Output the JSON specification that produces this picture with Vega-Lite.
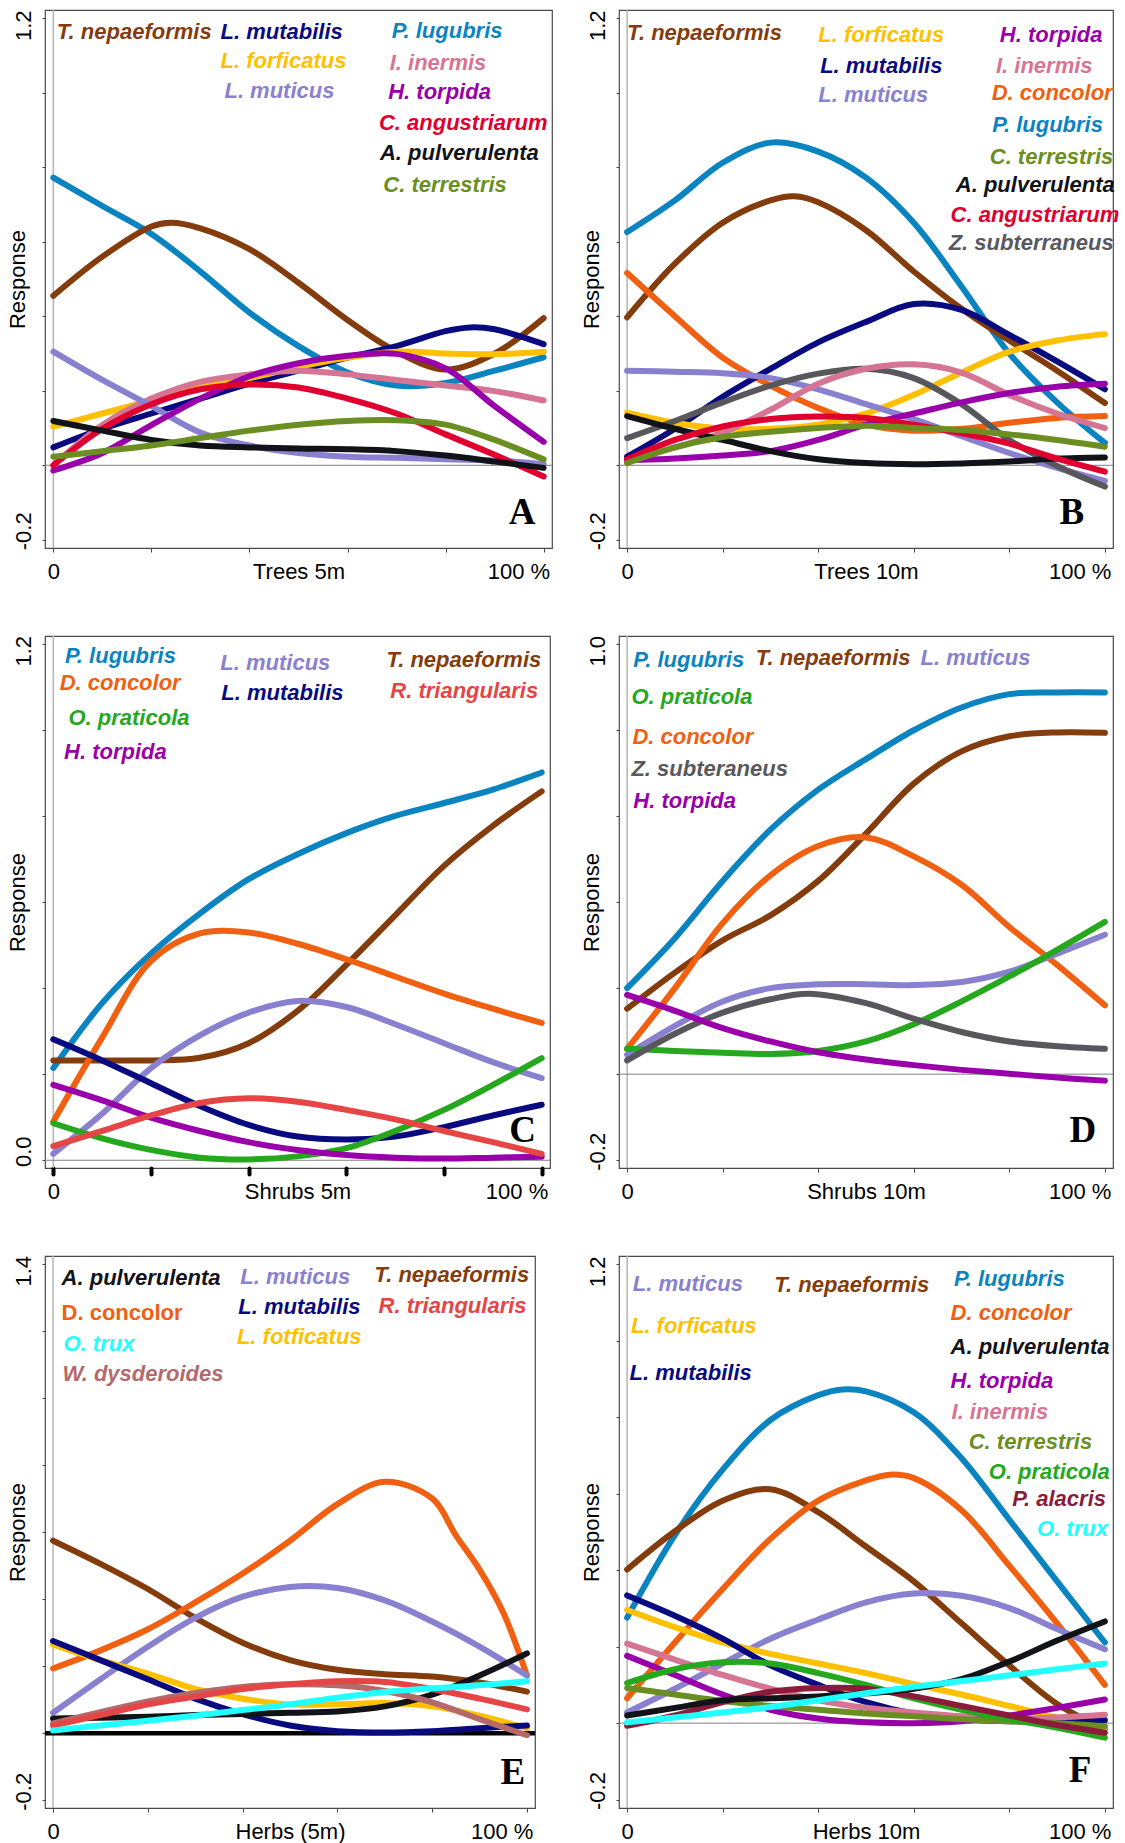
{
"$schema": "https://vega.github.io/schema/vega-lite/v6.json",
"background": "white",
"padding": {"left": 5, "top": 8, "right": 0, "bottom": 0},
"config": {"view": {"stroke": "#4a4a4a", "strokeWidth": 1.2}, "font": "Liberation Sans"},
"datasets": {
"curvesA": [
{"species":"P. lugubris","x":0,"y":0.772},{"species":"P. lugubris","x":10,"y":0.696},{"species":"P. lugubris","x":20,"y":0.621},{"species":"P. lugubris","x":30,"y":0.52},{"species":"P. lugubris","x":40,"y":0.41},{"species":"P. lugubris","x":50,"y":0.32},{"species":"P. lugubris","x":60,"y":0.249},{"species":"P. lugubris","x":70,"y":0.214},{"species":"P. lugubris","x":80,"y":0.221},{"species":"P. lugubris","x":90,"y":0.254},{"species":"P. lugubris","x":100,"y":0.29},
{"species":"T. nepaeformis","x":0,"y":0.455},{"species":"T. nepaeformis","x":10,"y":0.56},{"species":"T. nepaeformis","x":20,"y":0.641},{"species":"T. nepaeformis","x":24,"y":0.651},{"species":"T. nepaeformis","x":30,"y":0.636},{"species":"T. nepaeformis","x":40,"y":0.58},{"species":"T. nepaeformis","x":50,"y":0.49},{"species":"T. nepaeformis","x":60,"y":0.39},{"species":"T. nepaeformis","x":70,"y":0.305},{"species":"T. nepaeformis","x":80,"y":0.257},{"species":"T. nepaeformis","x":90,"y":0.3},{"species":"T. nepaeformis","x":100,"y":0.395},
{"species":"L. mutabilis","x":0,"y":0.048},{"species":"L. mutabilis","x":10,"y":0.098},{"species":"L. mutabilis","x":20,"y":0.139},{"species":"L. mutabilis","x":30,"y":0.179},{"species":"L. mutabilis","x":40,"y":0.219},{"species":"L. mutabilis","x":50,"y":0.254},{"species":"L. mutabilis","x":60,"y":0.289},{"species":"L. mutabilis","x":70,"y":0.32},{"species":"L. mutabilis","x":80,"y":0.36},{"species":"L. mutabilis","x":85,"y":0.37},{"species":"L. mutabilis","x":90,"y":0.365},{"species":"L. mutabilis","x":100,"y":0.325},
{"species":"L. forficatus","x":0,"y":0.104},{"species":"L. forficatus","x":10,"y":0.139},{"species":"L. forficatus","x":20,"y":0.174},{"species":"L. forficatus","x":30,"y":0.209},{"species":"L. forficatus","x":40,"y":0.234},{"species":"L. forficatus","x":50,"y":0.264},{"species":"L. forficatus","x":60,"y":0.289},{"species":"L. forficatus","x":70,"y":0.305},{"species":"L. forficatus","x":80,"y":0.3},{"species":"L. forficatus","x":90,"y":0.298},{"species":"L. forficatus","x":100,"y":0.305},
{"species":"I. inermis","x":0,"y":0.0},{"species":"I. inermis","x":10,"y":0.108},{"species":"I. inermis","x":20,"y":0.179},{"species":"I. inermis","x":30,"y":0.224},{"species":"I. inermis","x":40,"y":0.244},{"species":"I. inermis","x":50,"y":0.254},{"species":"I. inermis","x":60,"y":0.244},{"species":"I. inermis","x":70,"y":0.229},{"species":"I. inermis","x":80,"y":0.214},{"species":"I. inermis","x":90,"y":0.199},{"species":"I. inermis","x":100,"y":0.174},
{"species":"L. muticus","x":0,"y":0.305},{"species":"L. muticus","x":10,"y":0.229},{"species":"L. muticus","x":20,"y":0.159},{"species":"L. muticus","x":30,"y":0.088},{"species":"L. muticus","x":40,"y":0.053},{"species":"L. muticus","x":50,"y":0.033},{"species":"L. muticus","x":60,"y":0.023},{"species":"L. muticus","x":70,"y":0.02},{"species":"L. muticus","x":80,"y":0.016},{"species":"L. muticus","x":90,"y":0.013},{"species":"L. muticus","x":100,"y":0.003},
{"species":"H. torpida","x":0,"y":-0.014},{"species":"H. torpida","x":10,"y":0.033},{"species":"H. torpida","x":20,"y":0.108},{"species":"H. torpida","x":30,"y":0.179},{"species":"H. torpida","x":40,"y":0.239},{"species":"H. torpida","x":50,"y":0.274},{"species":"H. torpida","x":60,"y":0.294},{"species":"H. torpida","x":70,"y":0.299},{"species":"H. torpida","x":80,"y":0.26},{"species":"H. torpida","x":90,"y":0.159},{"species":"H. torpida","x":100,"y":0.063},
{"species":"C. angustriarum","x":0,"y":0.0},{"species":"C. angustriarum","x":10,"y":0.098},{"species":"C. angustriarum","x":20,"y":0.164},{"species":"C. angustriarum","x":30,"y":0.204},{"species":"C. angustriarum","x":40,"y":0.217},{"species":"C. angustriarum","x":50,"y":0.209},{"species":"C. angustriarum","x":60,"y":0.179},{"species":"C. angustriarum","x":70,"y":0.139},{"species":"C. angustriarum","x":80,"y":0.083},{"species":"C. angustriarum","x":90,"y":0.028},{"species":"C. angustriarum","x":100,"y":-0.03},
{"species":"A. pulverulenta","x":0,"y":0.119},{"species":"A. pulverulenta","x":10,"y":0.093},{"species":"A. pulverulenta","x":20,"y":0.068},{"species":"A. pulverulenta","x":30,"y":0.053},{"species":"A. pulverulenta","x":40,"y":0.048},{"species":"A. pulverulenta","x":50,"y":0.045},{"species":"A. pulverulenta","x":60,"y":0.043},{"species":"A. pulverulenta","x":70,"y":0.038},{"species":"A. pulverulenta","x":80,"y":0.026},{"species":"A. pulverulenta","x":90,"y":0.01},{"species":"A. pulverulenta","x":100,"y":-0.007},
{"species":"C. terrestris","x":0,"y":0.023},{"species":"C. terrestris","x":10,"y":0.038},{"species":"C. terrestris","x":20,"y":0.053},{"species":"C. terrestris","x":30,"y":0.073},{"species":"C. terrestris","x":40,"y":0.093},{"species":"C. terrestris","x":50,"y":0.109},{"species":"C. terrestris","x":60,"y":0.119},{"species":"C. terrestris","x":70,"y":0.121},{"species":"C. terrestris","x":80,"y":0.109},{"species":"C. terrestris","x":90,"y":0.068},{"species":"C. terrestris","x":100,"y":0.016}
],
"labelsA": [
{"species":"T. nepaeformis","label":"T. nepaeformis","x":0.7,"y":1.164},
{"species":"L. mutabilis","label":"L. mutabilis","x":34.1,"y":1.164},
{"species":"P. lugubris","label":"P. lugubris","x":69,"y":1.166},
{"species":"L. forficatus","label":"L. forficatus","x":34.1,"y":1.085},
{"species":"I. inermis","label":"I. inermis","x":68.6,"y":1.081},
{"species":"L. muticus","label":"L. muticus","x":34.9,"y":1.005},
{"species":"H. torpida","label":"H. torpida","x":68.3,"y":1.003},
{"species":"C. angustriarum","label":"C. angustriarum","x":66.4,"y":0.918},
{"species":"A. pulverulenta","label":"A. pulverulenta","x":66.6,"y":0.837},
{"species":"C. terrestris","label":"C. terrestris","x":67.3,"y":0.752}
],
"curvesB": [
{"species":"P. lugubris","x":0,"y":0.626},{"species":"P. lugubris","x":10,"y":0.711},{"species":"P. lugubris","x":20,"y":0.812},{"species":"P. lugubris","x":30,"y":0.866},{"species":"P. lugubris","x":40,"y":0.842},{"species":"P. lugubris","x":50,"y":0.772},{"species":"P. lugubris","x":60,"y":0.651},{"species":"P. lugubris","x":70,"y":0.48},{"species":"P. lugubris","x":80,"y":0.3},{"species":"P. lugubris","x":90,"y":0.169},{"species":"P. lugubris","x":100,"y":0.06},
{"species":"T. nepaeformis","x":0,"y":0.397},{"species":"T. nepaeformis","x":10,"y":0.541},{"species":"T. nepaeformis","x":20,"y":0.651},{"species":"T. nepaeformis","x":30,"y":0.711},{"species":"T. nepaeformis","x":35,"y":0.722},{"species":"T. nepaeformis","x":40,"y":0.706},{"species":"T. nepaeformis","x":50,"y":0.631},{"species":"T. nepaeformis","x":60,"y":0.52},{"species":"T. nepaeformis","x":70,"y":0.42},{"species":"T. nepaeformis","x":80,"y":0.335},{"species":"T. nepaeformis","x":90,"y":0.254},{"species":"T. nepaeformis","x":100,"y":0.167},
{"species":"D. concolor","x":0,"y":0.516},{"species":"D. concolor","x":10,"y":0.4},{"species":"D. concolor","x":20,"y":0.289},{"species":"D. concolor","x":30,"y":0.214},{"species":"D. concolor","x":40,"y":0.154},{"species":"D. concolor","x":50,"y":0.109},{"species":"D. concolor","x":60,"y":0.093},{"species":"D. concolor","x":70,"y":0.098},{"species":"D. concolor","x":80,"y":0.114},{"species":"D. concolor","x":90,"y":0.127},{"species":"D. concolor","x":100,"y":0.132},
{"species":"L. mutabilis","x":0,"y":0.023},{"species":"L. mutabilis","x":10,"y":0.098},{"species":"L. mutabilis","x":20,"y":0.184},{"species":"L. mutabilis","x":30,"y":0.259},{"species":"L. mutabilis","x":40,"y":0.33},{"species":"L. mutabilis","x":50,"y":0.385},{"species":"L. mutabilis","x":60,"y":0.433},{"species":"L. mutabilis","x":70,"y":0.417},{"species":"L. mutabilis","x":80,"y":0.35},{"species":"L. mutabilis","x":90,"y":0.279},{"species":"L. mutabilis","x":100,"y":0.204},
{"species":"L. forficatus","x":0,"y":0.141},{"species":"L. forficatus","x":10,"y":0.114},{"species":"L. forficatus","x":20,"y":0.098},{"species":"L. forficatus","x":30,"y":0.098},{"species":"L. forficatus","x":40,"y":0.109},{"species":"L. forficatus","x":50,"y":0.139},{"species":"L. forficatus","x":60,"y":0.189},{"species":"L. forficatus","x":70,"y":0.249},{"species":"L. forficatus","x":80,"y":0.305},{"species":"L. forficatus","x":90,"y":0.335},{"species":"L. forficatus","x":100,"y":0.352},
{"species":"L. muticus","x":0,"y":0.254},{"species":"L. muticus","x":10,"y":0.251},{"species":"L. muticus","x":20,"y":0.247},{"species":"L. muticus","x":30,"y":0.234},{"species":"L. muticus","x":40,"y":0.204},{"species":"L. muticus","x":50,"y":0.164},{"species":"L. muticus","x":60,"y":0.124},{"species":"L. muticus","x":70,"y":0.078},{"species":"L. muticus","x":80,"y":0.033},{"species":"L. muticus","x":90,"y":-0.007},{"species":"L. muticus","x":100,"y":-0.042},
{"species":"Z. subterraneus","x":0,"y":0.073},{"species":"Z. subterraneus","x":10,"y":0.119},{"species":"Z. subterraneus","x":20,"y":0.169},{"species":"Z. subterraneus","x":30,"y":0.214},{"species":"Z. subterraneus","x":40,"y":0.246},{"species":"Z. subterraneus","x":50,"y":0.259},{"species":"Z. subterraneus","x":60,"y":0.234},{"species":"Z. subterraneus","x":70,"y":0.164},{"species":"Z. subterraneus","x":80,"y":0.068},{"species":"Z. subterraneus","x":90,"y":-0.002},{"species":"Z. subterraneus","x":100,"y":-0.057},
{"species":"I. inermis","x":0,"y":0.013},{"species":"I. inermis","x":10,"y":0.048},{"species":"I. inermis","x":20,"y":0.088},{"species":"I. inermis","x":30,"y":0.149},{"species":"I. inermis","x":40,"y":0.219},{"species":"I. inermis","x":50,"y":0.259},{"species":"I. inermis","x":60,"y":0.271},{"species":"I. inermis","x":70,"y":0.249},{"species":"I. inermis","x":80,"y":0.189},{"species":"I. inermis","x":90,"y":0.139},{"species":"I. inermis","x":100,"y":0.1},
{"species":"H. torpida","x":0,"y":0.013},{"species":"H. torpida","x":10,"y":0.018},{"species":"H. torpida","x":20,"y":0.026},{"species":"H. torpida","x":30,"y":0.038},{"species":"H. torpida","x":40,"y":0.068},{"species":"H. torpida","x":50,"y":0.109},{"species":"H. torpida","x":60,"y":0.139},{"species":"H. torpida","x":70,"y":0.169},{"species":"H. torpida","x":80,"y":0.194},{"species":"H. torpida","x":90,"y":0.211},{"species":"H. torpida","x":100,"y":0.219},
{"species":"A. pulverulenta","x":0,"y":0.132},{"species":"A. pulverulenta","x":10,"y":0.098},{"species":"A. pulverulenta","x":20,"y":0.068},{"species":"A. pulverulenta","x":30,"y":0.038},{"species":"A. pulverulenta","x":40,"y":0.016},{"species":"A. pulverulenta","x":50,"y":0.006},{"species":"A. pulverulenta","x":60,"y":0.003},{"species":"A. pulverulenta","x":70,"y":0.005},{"species":"A. pulverulenta","x":80,"y":0.01},{"species":"A. pulverulenta","x":90,"y":0.018},{"species":"A. pulverulenta","x":100,"y":0.021},
{"species":"C. angustriarum","x":0,"y":0.016},{"species":"C. angustriarum","x":10,"y":0.068},{"species":"C. angustriarum","x":20,"y":0.104},{"species":"C. angustriarum","x":30,"y":0.124},{"species":"C. angustriarum","x":40,"y":0.131},{"species":"C. angustriarum","x":50,"y":0.127},{"species":"C. angustriarum","x":60,"y":0.109},{"species":"C. angustriarum","x":70,"y":0.086},{"species":"C. angustriarum","x":80,"y":0.058},{"species":"C. angustriarum","x":90,"y":0.018},{"species":"C. angustriarum","x":100,"y":-0.017},
{"species":"C. terrestris","x":0,"y":0.006},{"species":"C. terrestris","x":10,"y":0.048},{"species":"C. terrestris","x":20,"y":0.076},{"species":"C. terrestris","x":30,"y":0.09},{"species":"C. terrestris","x":40,"y":0.1},{"species":"C. terrestris","x":50,"y":0.106},{"species":"C. terrestris","x":60,"y":0.1},{"species":"C. terrestris","x":70,"y":0.095},{"species":"C. terrestris","x":80,"y":0.083},{"species":"C. terrestris","x":90,"y":0.068},{"species":"C. terrestris","x":100,"y":0.05}
],
"labelsB": [
{"species":"T. nepaeformis","label":"T. nepaeformis","x":0,"y":1.159},
{"species":"L. forficatus","label":"L. forficatus","x":40,"y":1.156},
{"species":"H. torpida","label":"H. torpida","x":78,"y":1.156},
{"species":"L. mutabilis","label":"L. mutabilis","x":40.4,"y":1.071},
{"species":"I. inermis","label":"I. inermis","x":77.2,"y":1.073},
{"species":"L. muticus","label":"L. muticus","x":40,"y":0.993},
{"species":"D. concolor","label":"D. concolor","x":76.3,"y":0.998},
{"species":"P. lugubris","label":"P. lugubris","x":76.4,"y":0.913},
{"species":"C. terrestris","label":"C. terrestris","x":75.9,"y":0.827},
{"species":"A. pulverulenta","label":"A. pulverulenta","x":68.8,"y":0.752},
{"species":"C. angustriarum","label":"C. angustriarum","x":67.7,"y":0.671},
{"species":"Z. subterraneus","label":"Z. subterraneus","x":67.3,"y":0.596}
],
"curvesC": [
{"species":"P. lugubris","x":0,"y":0.214},{"species":"P. lugubris","x":10,"y":0.365},{"species":"P. lugubris","x":20,"y":0.48},{"species":"P. lugubris","x":30,"y":0.573},{"species":"P. lugubris","x":40,"y":0.653},{"species":"P. lugubris","x":50,"y":0.711},{"species":"P. lugubris","x":60,"y":0.76},{"species":"P. lugubris","x":70,"y":0.8},{"species":"P. lugubris","x":80,"y":0.83},{"species":"P. lugubris","x":90,"y":0.861},{"species":"P. lugubris","x":100,"y":0.901},
{"species":"T. nepaeformis","x":0,"y":0.232},{"species":"T. nepaeformis","x":10,"y":0.232},{"species":"T. nepaeformis","x":20,"y":0.232},{"species":"T. nepaeformis","x":30,"y":0.238},{"species":"T. nepaeformis","x":40,"y":0.272},{"species":"T. nepaeformis","x":50,"y":0.347},{"species":"T. nepaeformis","x":60,"y":0.454},{"species":"T. nepaeformis","x":70,"y":0.569},{"species":"T. nepaeformis","x":80,"y":0.684},{"species":"T. nepaeformis","x":90,"y":0.777},{"species":"T. nepaeformis","x":100,"y":0.857},
{"species":"D. concolor","x":0,"y":0.09},{"species":"D. concolor","x":10,"y":0.285},{"species":"D. concolor","x":20,"y":0.463},{"species":"D. concolor","x":30,"y":0.527},{"species":"D. concolor","x":40,"y":0.529},{"species":"D. concolor","x":50,"y":0.503},{"species":"D. concolor","x":60,"y":0.467},{"species":"D. concolor","x":70,"y":0.427},{"species":"D. concolor","x":80,"y":0.387},{"species":"D. concolor","x":90,"y":0.352},{"species":"D. concolor","x":100,"y":0.319},
{"species":"L. muticus","x":0,"y":0.015},{"species":"L. muticus","x":10,"y":0.108},{"species":"L. muticus","x":20,"y":0.214},{"species":"L. muticus","x":30,"y":0.29},{"species":"L. muticus","x":40,"y":0.343},{"species":"L. muticus","x":50,"y":0.37},{"species":"L. muticus","x":60,"y":0.356},{"species":"L. muticus","x":70,"y":0.316},{"species":"L. muticus","x":80,"y":0.272},{"species":"L. muticus","x":90,"y":0.228},{"species":"L. muticus","x":100,"y":0.191},
{"species":"L. mutabilis","x":0,"y":0.281},{"species":"L. mutabilis","x":10,"y":0.232},{"species":"L. mutabilis","x":20,"y":0.179},{"species":"L. mutabilis","x":30,"y":0.126},{"species":"L. mutabilis","x":40,"y":0.082},{"species":"L. mutabilis","x":50,"y":0.055},{"species":"L. mutabilis","x":60,"y":0.048},{"species":"L. mutabilis","x":70,"y":0.055},{"species":"L. mutabilis","x":80,"y":0.077},{"species":"L. mutabilis","x":90,"y":0.104},{"species":"L. mutabilis","x":100,"y":0.129},
{"species":"O. praticola","x":0,"y":0.086},{"species":"O. praticola","x":10,"y":0.051},{"species":"O. praticola","x":20,"y":0.024},{"species":"O. praticola","x":30,"y":0.006},{"species":"O. praticola","x":40,"y":0.002},{"species":"O. praticola","x":50,"y":0.009},{"species":"O. praticola","x":60,"y":0.028},{"species":"O. praticola","x":70,"y":0.068},{"species":"O. praticola","x":80,"y":0.117},{"species":"O. praticola","x":90,"y":0.175},{"species":"O. praticola","x":100,"y":0.237},
{"species":"H. torpida","x":0,"y":0.175},{"species":"H. torpida","x":10,"y":0.139},{"species":"H. torpida","x":20,"y":0.099},{"species":"H. torpida","x":30,"y":0.068},{"species":"H. torpida","x":40,"y":0.042},{"species":"H. torpida","x":50,"y":0.024},{"species":"H. torpida","x":60,"y":0.012},{"species":"H. torpida","x":70,"y":0.006},{"species":"H. torpida","x":80,"y":0.004},{"species":"H. torpida","x":90,"y":0.006},{"species":"H. torpida","x":100,"y":0.008},
{"species":"R. triangularis","x":0,"y":0.033},{"species":"R. triangularis","x":10,"y":0.068},{"species":"R. triangularis","x":20,"y":0.104},{"species":"R. triangularis","x":30,"y":0.133},{"species":"R. triangularis","x":40,"y":0.144},{"species":"R. triangularis","x":50,"y":0.136},{"species":"R. triangularis","x":60,"y":0.117},{"species":"R. triangularis","x":70,"y":0.095},{"species":"R. triangularis","x":80,"y":0.068},{"species":"R. triangularis","x":90,"y":0.042},{"species":"R. triangularis","x":100,"y":0.015}
],
"labelsC": [
{"species":"P. lugubris","label":"P. lugubris","x":2.4,"y":1.172},
{"species":"D. concolor","label":"D. concolor","x":1.3,"y":1.108},
{"species":"O. praticola","label":"O. praticola","x":3.1,"y":1.028},
{"species":"H. torpida","label":"H. torpida","x":2.2,"y":0.948},
{"species":"L. muticus","label":"L. muticus","x":34.2,"y":1.156},
{"species":"L. mutabilis","label":"L. mutabilis","x":34.4,"y":1.085},
{"species":"T. nepaeformis","label":"T. nepaeformis","x":68.2,"y":1.163},
{"species":"R. triangularis","label":"R. triangularis","x":69,"y":1.09}
],
"curvesD": [
{"species":"P. lugubris","x":0,"y":0.2},{"species":"P. lugubris","x":10,"y":0.316},{"species":"P. lugubris","x":20,"y":0.449},{"species":"P. lugubris","x":30,"y":0.568},{"species":"P. lugubris","x":40,"y":0.661},{"species":"P. lugubris","x":50,"y":0.732},{"species":"P. lugubris","x":60,"y":0.799},{"species":"P. lugubris","x":70,"y":0.852},{"species":"P. lugubris","x":80,"y":0.883},{"species":"P. lugubris","x":90,"y":0.887},{"species":"P. lugubris","x":100,"y":0.887},
{"species":"T. nepaeformis","x":0,"y":0.152},{"species":"T. nepaeformis","x":10,"y":0.236},{"species":"T. nepaeformis","x":20,"y":0.311},{"species":"T. nepaeformis","x":30,"y":0.369},{"species":"T. nepaeformis","x":40,"y":0.449},{"species":"T. nepaeformis","x":50,"y":0.559},{"species":"T. nepaeformis","x":60,"y":0.675},{"species":"T. nepaeformis","x":70,"y":0.75},{"species":"T. nepaeformis","x":80,"y":0.785},{"species":"T. nepaeformis","x":90,"y":0.794},{"species":"T. nepaeformis","x":100,"y":0.793},
{"species":"D. concolor","x":0,"y":0.059},{"species":"D. concolor","x":10,"y":0.2},{"species":"D. concolor","x":20,"y":0.351},{"species":"D. concolor","x":30,"y":0.462},{"species":"D. concolor","x":40,"y":0.53},{"species":"D. concolor","x":50,"y":0.55},{"species":"D. concolor","x":60,"y":0.506},{"species":"D. concolor","x":70,"y":0.44},{"species":"D. concolor","x":80,"y":0.342},{"species":"D. concolor","x":90,"y":0.254},{"species":"D. concolor","x":100,"y":0.16},
{"species":"L. muticus","x":0,"y":0.045},{"species":"L. muticus","x":10,"y":0.112},{"species":"L. muticus","x":20,"y":0.169},{"species":"L. muticus","x":30,"y":0.2},{"species":"L. muticus","x":40,"y":0.209},{"species":"L. muticus","x":50,"y":0.209},{"species":"L. muticus","x":60,"y":0.207},{"species":"L. muticus","x":70,"y":0.214},{"species":"L. muticus","x":80,"y":0.238},{"species":"L. muticus","x":90,"y":0.28},{"species":"L. muticus","x":100,"y":0.324},
{"species":"O. praticola","x":0,"y":0.059},{"species":"O. praticola","x":10,"y":0.054},{"species":"O. praticola","x":20,"y":0.05},{"species":"O. praticola","x":30,"y":0.047},{"species":"O. praticola","x":40,"y":0.054},{"species":"O. praticola","x":50,"y":0.076},{"species":"O. praticola","x":60,"y":0.116},{"species":"O. praticola","x":70,"y":0.169},{"species":"O. praticola","x":80,"y":0.227},{"species":"O. praticola","x":90,"y":0.289},{"species":"O. praticola","x":100,"y":0.354},
{"species":"Z. subterraneus","x":0,"y":0.032},{"species":"Z. subterraneus","x":10,"y":0.094},{"species":"Z. subterraneus","x":20,"y":0.143},{"species":"Z. subterraneus","x":30,"y":0.174},{"species":"Z. subterraneus","x":38,"y":0.187},{"species":"Z. subterraneus","x":50,"y":0.165},{"species":"Z. subterraneus","x":60,"y":0.129},{"species":"Z. subterraneus","x":70,"y":0.098},{"species":"Z. subterraneus","x":80,"y":0.076},{"species":"Z. subterraneus","x":90,"y":0.065},{"species":"Z. subterraneus","x":100,"y":0.059},
{"species":"H. torpida","x":0,"y":0.184},{"species":"H. torpida","x":10,"y":0.147},{"species":"H. torpida","x":20,"y":0.107},{"species":"H. torpida","x":30,"y":0.076},{"species":"H. torpida","x":40,"y":0.051},{"species":"H. torpida","x":50,"y":0.034},{"species":"H. torpida","x":60,"y":0.021},{"species":"H. torpida","x":70,"y":0.01},{"species":"H. torpida","x":80,"y":0.001},{"species":"H. torpida","x":90,"y":-0.008},{"species":"H. torpida","x":100,"y":-0.015}
],
"labelsD": [
{"species":"P. lugubris","label":"P. lugubris","x":1.3,"y":0.963},
{"species":"T. nepaeformis","label":"T. nepaeformis","x":26.9,"y":0.967},
{"species":"L. muticus","label":"L. muticus","x":61.4,"y":0.967},
{"species":"O. praticola","label":"O. praticola","x":0.9,"y":0.877},
{"species":"D. concolor","label":"D. concolor","x":1.1,"y":0.784},
{"species":"Z. subterraneus","label":"Z. subteraneus","x":0.9,"y":0.71},
{"species":"H. torpida","label":"H. torpida","x":1.3,"y":0.635}
],
"curvesE": [
{"species":"T. nepaeformis","x":0,"y":0.574},{"species":"T. nepaeformis","x":10,"y":0.505},{"species":"T. nepaeformis","x":20,"y":0.43},{"species":"T. nepaeformis","x":30,"y":0.344},{"species":"T. nepaeformis","x":40,"y":0.27},{"species":"T. nepaeformis","x":50,"y":0.218},{"species":"T. nepaeformis","x":60,"y":0.189},{"species":"T. nepaeformis","x":70,"y":0.176},{"species":"T. nepaeformis","x":80,"y":0.169},{"species":"T. nepaeformis","x":90,"y":0.151},{"species":"T. nepaeformis","x":100,"y":0.124},
{"species":"D. concolor","x":0,"y":0.193},{"species":"D. concolor","x":10,"y":0.247},{"species":"D. concolor","x":20,"y":0.31},{"species":"D. concolor","x":30,"y":0.39},{"species":"D. concolor","x":40,"y":0.476},{"species":"D. concolor","x":50,"y":0.574},{"species":"D. concolor","x":60,"y":0.683},{"species":"D. concolor","x":70,"y":0.75},{"species":"D. concolor","x":80,"y":0.7},{"species":"D. concolor","x":85,"y":0.59},{"species":"D. concolor","x":90,"y":0.488},{"species":"D. concolor","x":95,"y":0.36},{"species":"D. concolor","x":100,"y":0.172},
{"species":"L. muticus","x":0,"y":0.061},{"species":"L. muticus","x":10,"y":0.161},{"species":"L. muticus","x":20,"y":0.258},{"species":"L. muticus","x":30,"y":0.344},{"species":"L. muticus","x":40,"y":0.407},{"species":"L. muticus","x":50,"y":0.436},{"species":"L. muticus","x":60,"y":0.433},{"species":"L. muticus","x":70,"y":0.396},{"species":"L. muticus","x":80,"y":0.333},{"species":"L. muticus","x":90,"y":0.258},{"species":"L. muticus","x":100,"y":0.172},
{"species":"L. forficatus","x":0,"y":0.264},{"species":"L. forficatus","x":10,"y":0.218},{"species":"L. forficatus","x":20,"y":0.178},{"species":"L. forficatus","x":30,"y":0.132},{"species":"L. forficatus","x":40,"y":0.103},{"species":"L. forficatus","x":50,"y":0.086},{"species":"L. forficatus","x":60,"y":0.086},{"species":"L. forficatus","x":70,"y":0.09},{"species":"L. forficatus","x":80,"y":0.08},{"species":"L. forficatus","x":90,"y":0.052},{"species":"L. forficatus","x":100,"y":0.015},
{"species":"L. mutabilis","x":0,"y":0.275},{"species":"L. mutabilis","x":10,"y":0.218},{"species":"L. mutabilis","x":20,"y":0.161},{"species":"L. mutabilis","x":30,"y":0.103},{"species":"L. mutabilis","x":40,"y":0.057},{"species":"L. mutabilis","x":50,"y":0.023},{"species":"L. mutabilis","x":60,"y":0.006},{"species":"L. mutabilis","x":70,"y":0.002},{"species":"L. mutabilis","x":80,"y":0.006},{"species":"L. mutabilis","x":90,"y":0.015},{"species":"L. mutabilis","x":100,"y":0.023},
{"species":"A. pulverulenta","x":0,"y":0.044},{"species":"A. pulverulenta","x":10,"y":0.046},{"species":"A. pulverulenta","x":20,"y":0.049},{"species":"A. pulverulenta","x":30,"y":0.054},{"species":"A. pulverulenta","x":40,"y":0.057},{"species":"A. pulverulenta","x":50,"y":0.061},{"species":"A. pulverulenta","x":60,"y":0.065},{"species":"A. pulverulenta","x":70,"y":0.08},{"species":"A. pulverulenta","x":80,"y":0.115},{"species":"A. pulverulenta","x":90,"y":0.172},{"species":"A. pulverulenta","x":100,"y":0.238},
{"species":"W. dysderoides","x":0,"y":0.029},{"species":"W. dysderoides","x":10,"y":0.063},{"species":"W. dysderoides","x":20,"y":0.095},{"species":"W. dysderoides","x":30,"y":0.12},{"species":"W. dysderoides","x":40,"y":0.138},{"species":"W. dysderoides","x":50,"y":0.146},{"species":"W. dysderoides","x":60,"y":0.143},{"species":"W. dysderoides","x":70,"y":0.126},{"species":"W. dysderoides","x":80,"y":0.092},{"species":"W. dysderoides","x":90,"y":0.042},{"species":"W. dysderoides","x":100,"y":-0.006},
{"species":"R. triangularis","x":0,"y":0.023},{"species":"R. triangularis","x":10,"y":0.054},{"species":"R. triangularis","x":20,"y":0.086},{"species":"R. triangularis","x":30,"y":0.109},{"species":"R. triangularis","x":40,"y":0.132},{"species":"R. triangularis","x":50,"y":0.146},{"species":"R. triangularis","x":60,"y":0.155},{"species":"R. triangularis","x":70,"y":0.153},{"species":"R. triangularis","x":80,"y":0.132},{"species":"R. triangularis","x":90,"y":0.103},{"species":"R. triangularis","x":100,"y":0.071},
{"species":"O. trux","x":0,"y":0.008},{"species":"O. trux","x":10,"y":0.023},{"species":"O. trux","x":20,"y":0.037},{"species":"O. trux","x":30,"y":0.052},{"species":"O. trux","x":40,"y":0.069},{"species":"O. trux","x":50,"y":0.086},{"species":"O. trux","x":60,"y":0.106},{"species":"O. trux","x":70,"y":0.123},{"species":"O. trux","x":80,"y":0.134},{"species":"O. trux","x":90,"y":0.143},{"species":"O. trux","x":100,"y":0.155}
],
"labelsE": [
{"species":"A. pulverulenta","label":"A. pulverulenta","x":1.8,"y":1.357},
{"species":"D. concolor","label":"D. concolor","x":1.8,"y":1.254},
{"species":"O. trux","label":"O. trux","x":2.2,"y":1.162},
{"species":"W. dysderoides","label":"W. dysderoides","x":2.0,"y":1.07},
{"species":"L. muticus","label":"L. muticus","x":39.5,"y":1.36},
{"species":"L. mutabilis","label":"L. mutabilis","x":39.1,"y":1.27},
{"species":"L. forficatus","label":"L. fotficatus","x":38.8,"y":1.182},
{"species":"T. nepaeformis","label":"T. nepaeformis","x":67.8,"y":1.365},
{"species":"R. triangularis","label":"R. triangularis","x":68.7,"y":1.274}
],
"curvesF": [
{"species":"P. lugubris","x":0,"y":0.276},{"species":"P. lugubris","x":10,"y":0.492},{"species":"P. lugubris","x":20,"y":0.663},{"species":"P. lugubris","x":30,"y":0.793},{"species":"P. lugubris","x":40,"y":0.858},{"species":"P. lugubris","x":45,"y":0.873},{"species":"P. lugubris","x":50,"y":0.868},{"species":"P. lugubris","x":60,"y":0.813},{"species":"P. lugubris","x":70,"y":0.693},{"species":"P. lugubris","x":80,"y":0.532},{"species":"P. lugubris","x":90,"y":0.371},{"species":"P. lugubris","x":100,"y":0.211},
{"species":"T. nepaeformis","x":0,"y":0.402},{"species":"T. nepaeformis","x":10,"y":0.502},{"species":"T. nepaeformis","x":20,"y":0.582},{"species":"T. nepaeformis","x":30,"y":0.612},{"species":"T. nepaeformis","x":40,"y":0.552},{"species":"T. nepaeformis","x":50,"y":0.462},{"species":"T. nepaeformis","x":60,"y":0.371},{"species":"T. nepaeformis","x":70,"y":0.261},{"species":"T. nepaeformis","x":80,"y":0.151},{"species":"T. nepaeformis","x":90,"y":0.05},{"species":"T. nepaeformis","x":100,"y":-0.015},
{"species":"D. concolor","x":0,"y":0.065},{"species":"D. concolor","x":10,"y":0.211},{"species":"D. concolor","x":20,"y":0.351},{"species":"D. concolor","x":30,"y":0.482},{"species":"D. concolor","x":40,"y":0.582},{"species":"D. concolor","x":50,"y":0.635},{"species":"D. concolor","x":55,"y":0.65},{"species":"D. concolor","x":60,"y":0.641},{"species":"D. concolor","x":70,"y":0.557},{"species":"D. concolor","x":80,"y":0.412},{"species":"D. concolor","x":90,"y":0.261},{"species":"D. concolor","x":100,"y":0.1},
{"species":"L. muticus","x":0,"y":0.028},{"species":"L. muticus","x":10,"y":0.09},{"species":"L. muticus","x":20,"y":0.156},{"species":"L. muticus","x":30,"y":0.221},{"species":"L. muticus","x":40,"y":0.271},{"species":"L. muticus","x":50,"y":0.316},{"species":"L. muticus","x":60,"y":0.339},{"species":"L. muticus","x":70,"y":0.333},{"species":"L. muticus","x":80,"y":0.301},{"species":"L. muticus","x":90,"y":0.246},{"species":"L. muticus","x":100,"y":0.193},
{"species":"L. forficatus","x":0,"y":0.296},{"species":"L. forficatus","x":10,"y":0.251},{"species":"L. forficatus","x":20,"y":0.211},{"species":"L. forficatus","x":30,"y":0.181},{"species":"L. forficatus","x":40,"y":0.156},{"species":"L. forficatus","x":50,"y":0.131},{"species":"L. forficatus","x":60,"y":0.102},{"species":"L. forficatus","x":70,"y":0.075},{"species":"L. forficatus","x":80,"y":0.045},{"species":"L. forficatus","x":90,"y":0.015},{"species":"L. forficatus","x":100,"y":-0.012},
{"species":"L. mutabilis","x":0,"y":0.334},{"species":"L. mutabilis","x":10,"y":0.281},{"species":"L. mutabilis","x":20,"y":0.221},{"species":"L. mutabilis","x":30,"y":0.151},{"species":"L. mutabilis","x":40,"y":0.1},{"species":"L. mutabilis","x":50,"y":0.055},{"species":"L. mutabilis","x":60,"y":0.025},{"species":"L. mutabilis","x":70,"y":0.01},{"species":"L. mutabilis","x":80,"y":0.005},{"species":"L. mutabilis","x":90,"y":0.005},{"species":"L. mutabilis","x":100,"y":0.008},
{"species":"I. inermis","x":0,"y":0.208},{"species":"I. inermis","x":10,"y":0.166},{"species":"I. inermis","x":20,"y":0.126},{"species":"I. inermis","x":30,"y":0.09},{"species":"I. inermis","x":40,"y":0.06},{"species":"I. inermis","x":50,"y":0.04},{"species":"I. inermis","x":60,"y":0.028},{"species":"I. inermis","x":70,"y":0.018},{"species":"I. inermis","x":80,"y":0.012},{"species":"I. inermis","x":90,"y":0.015},{"species":"I. inermis","x":100,"y":0.022},
{"species":"H. torpida","x":0,"y":0.176},{"species":"H. torpida","x":10,"y":0.126},{"species":"H. torpida","x":20,"y":0.075},{"species":"H. torpida","x":30,"y":0.035},{"species":"H. torpida","x":40,"y":0.012},{"species":"H. torpida","x":50,"y":0.002},{"species":"H. torpida","x":60,"y":0.0},{"species":"H. torpida","x":70,"y":0.005},{"species":"H. torpida","x":80,"y":0.02},{"species":"H. torpida","x":90,"y":0.04},{"species":"H. torpida","x":100,"y":0.062},
{"species":"C. terrestris","x":0,"y":0.092},{"species":"C. terrestris","x":10,"y":0.075},{"species":"C. terrestris","x":20,"y":0.058},{"species":"C. terrestris","x":30,"y":0.045},{"species":"C. terrestris","x":40,"y":0.035},{"species":"C. terrestris","x":50,"y":0.025},{"species":"C. terrestris","x":60,"y":0.018},{"species":"C. terrestris","x":70,"y":0.01},{"species":"C. terrestris","x":80,"y":0.005},{"species":"C. terrestris","x":90,"y":0.0},{"species":"C. terrestris","x":100,"y":-0.008},
{"species":"O. praticola","x":0,"y":0.105},{"species":"O. praticola","x":10,"y":0.141},{"species":"O. praticola","x":20,"y":0.159},{"species":"O. praticola","x":30,"y":0.156},{"species":"O. praticola","x":40,"y":0.131},{"species":"O. praticola","x":50,"y":0.1},{"species":"O. praticola","x":60,"y":0.065},{"species":"O. praticola","x":70,"y":0.035},{"species":"O. praticola","x":80,"y":0.01},{"species":"O. praticola","x":90,"y":-0.012},{"species":"O. praticola","x":100,"y":-0.038},
{"species":"P. alacris","x":0,"y":-0.007},{"species":"P. alacris","x":10,"y":0.02},{"species":"P. alacris","x":20,"y":0.055},{"species":"P. alacris","x":30,"y":0.082},{"species":"P. alacris","x":40,"y":0.092},{"species":"P. alacris","x":50,"y":0.09},{"species":"P. alacris","x":60,"y":0.07},{"species":"P. alacris","x":70,"y":0.045},{"species":"P. alacris","x":80,"y":0.02},{"species":"P. alacris","x":90,"y":-0.005},{"species":"P. alacris","x":100,"y":-0.025},
{"species":"A. pulverulenta","x":0,"y":0.02},{"species":"A. pulverulenta","x":10,"y":0.04},{"species":"A. pulverulenta","x":20,"y":0.06},{"species":"A. pulverulenta","x":30,"y":0.065},{"species":"A. pulverulenta","x":40,"y":0.07},{"species":"A. pulverulenta","x":50,"y":0.078},{"species":"A. pulverulenta","x":60,"y":0.09},{"species":"A. pulverulenta","x":70,"y":0.115},{"species":"A. pulverulenta","x":80,"y":0.161},{"species":"A. pulverulenta","x":90,"y":0.216},{"species":"A. pulverulenta","x":100,"y":0.266},
{"species":"O. trux","x":0,"y":0.002},{"species":"O. trux","x":10,"y":0.015},{"species":"O. trux","x":20,"y":0.028},{"species":"O. trux","x":30,"y":0.042},{"species":"O. trux","x":40,"y":0.06},{"species":"O. trux","x":50,"y":0.078},{"species":"O. trux","x":60,"y":0.095},{"species":"O. trux","x":70,"y":0.11},{"species":"O. trux","x":80,"y":0.125},{"species":"O. trux","x":90,"y":0.141},{"species":"O. trux","x":100,"y":0.156}
],
"labelsF": [
{"species":"L. muticus","label":"L. muticus","x":1.2,"y":1.15},
{"species":"L. forficatus","label":"L. forficatus","x":0.8,"y":1.039},
{"species":"L. mutabilis","label":"L. mutabilis","x":0.5,"y":0.916},
{"species":"T. nepaeformis","label":"T. nepaeformis","x":30.8,"y":1.147},
{"species":"P. lugubris","label":"P. lugubris","x":68.4,"y":1.163},
{"species":"D. concolor","label":"D. concolor","x":67.7,"y":1.074},
{"species":"A. pulverulenta","label":"A. pulverulenta","x":67.7,"y":0.984},
{"species":"H. torpida","label":"H. torpida","x":67.7,"y":0.894},
{"species":"I. inermis","label":"I. inermis","x":67.9,"y":0.815},
{"species":"C. terrestris","label":"C. terrestris","x":71.5,"y":0.735},
{"species":"O. praticola","label":"O. praticola","x":75.7,"y":0.658},
{"species":"P. alacris","label":"P. alacris","x":80.6,"y":0.587},
{"species":"O. trux","label":"O. trux","x":85.8,"y":0.507}
]
},
"columns": 2,
"bounds": "flush",
"spacing": {"row": 88, "column": 67},
"concat": [
{"width": 507, "height": 538, "layer": [
 {"data": {"values": [{}]}, "mark": {"type": "rule", "color": "#b4b4b4", "strokeWidth": 1.5}, "encoding": {"x": {"datum": 0, "type": "quantitative", "scale": {"domain": [-1.7, 101.7], "nice": false, "zero": false}}}},
 {"data": {"values": [{}]}, "mark": {"type": "rule", "color": "#808080", "strokeWidth": 1}, "encoding": {"y": {"datum": 0, "type": "quantitative", "scale": {"domain": [-0.222, 1.222], "nice": false, "zero": false}}}},
 {"data": {"name": "curvesA"}, "mark": {"type": "line", "interpolate": "catmull-rom", "strokeWidth": 6, "strokeCap": "round", "strokeJoin": "round"},
  "encoding": {
   "x": {"field": "x", "type": "quantitative", "scale": {"domain": [-1.7, 101.7], "nice": false, "zero": false},
     "axis": {"title": "Trees 5m", "values": [0, 20, 40, 60, 80, 100], "labelExpr": "datum.value == 0 ? '0' : datum.value == 100 ? '100 %' : ''", "labelFlush": 12, "labelFlushOffset": 6, "labelFontSize": 22, "labelColor": "black", "labelPadding": 9, "labelOverlap": false, "labelBound": false, "tickSize": 4, "tickColor": "#444", "domain": false, "grid": false, "titleFontSize": 22, "titleFontWeight": "normal", "titleColor": "black", "titleBaseline": "top", "titleY": 13}},
   "y": {"field": "y", "type": "quantitative", "scale": {"domain": [-0.222, 1.222], "nice": false, "zero": false},
     "axis": {"title": "Response", "values": [-0.2, 0, 0.2, 0.4, 0.6, 0.8, 1, 1.2], "labelExpr": "datum.value == 1.2 ? '1.2' : datum.value == -0.2 ? '-0.2' : ''", "labelAngle": 270, "labelAlign": "center", "labelBaseline": "bottom", "labelOffset": {"condition": {"test": "datum.value > 0.5", "value": 7}, "value": -9}, "labelFontSize": 22, "labelColor": "black", "labelPadding": 7, "labelOverlap": false, "labelBound": false, "labelFlush": false, "tickSize": 3, "tickColor": "#444", "domain": false, "grid": false, "titleFontSize": 22, "titleFontWeight": "normal", "titleColor": "black", "titleAngle": 270, "titleBaseline": "bottom", "titleX": -16}},
   "color": {"field": "species", "type": "nominal", "legend": null, "scale": {"domain": ["T. nepaeformis","L. mutabilis","P. lugubris","L. forficatus","I. inermis","L. muticus","H. torpida","C. angustriarum","A. pulverulenta","C. terrestris","D. concolor","Z. subterraneus","O. praticola","R. triangularis","O. trux","W. dysderoides","P. alacris"], "range": ["#843C0C","#0A0A80","#0A84C0","#FFC000","#D67593","#8A80D0","#9900AA","#E00030","#111318","#6B8E23","#F06010","#58585C","#26A81E","#E54545","#22FFFF","#B5696B","#8C1B3B"]}}}},
 {"data": {"name": "labelsA"}, "mark": {"type": "text", "align": "left", "baseline": "middle", "font": "Liberation Sans", "fontSize": 22, "fontWeight": "bold", "fontStyle": "italic"},
  "encoding": {
   "x": {"field": "x", "type": "quantitative", "scale": {"domain": [-1.7, 101.7], "nice": false, "zero": false}},
   "y": {"field": "y", "type": "quantitative", "scale": {"domain": [-0.222, 1.222], "nice": false, "zero": false}},
   "text": {"field": "label"},
   "color": {"field": "species", "type": "nominal", "legend": null, "scale": {"domain": ["T. nepaeformis","L. mutabilis","P. lugubris","L. forficatus","I. inermis","L. muticus","H. torpida","C. angustriarum","A. pulverulenta","C. terrestris","D. concolor","Z. subterraneus","O. praticola","R. triangularis","O. trux","W. dysderoides","P. alacris"], "range": ["#843C0C","#0A0A80","#0A84C0","#FFC000","#D67593","#8A80D0","#9900AA","#E00030","#111318","#6B8E23","#F06010","#58585C","#26A81E","#E54545","#22FFFF","#B5696B","#8C1B3B"]}}}},
 {"data": {"values": [{"panel": "A", "x": 95.6, "y": -0.128}]}, "mark": {"type": "text", "font": "Liberation Serif", "fontSize": 37, "fontWeight": "bold", "align": "center", "baseline": "middle", "color": "black"},
  "encoding": {
   "x": {"field": "x", "type": "quantitative", "scale": {"domain": [-1.7, 101.7], "nice": false, "zero": false}},
   "y": {"field": "y", "type": "quantitative", "scale": {"domain": [-0.222, 1.222], "nice": false, "zero": false}},
   "text": {"field": "panel"}}}
]},
{"width": 494, "height": 538, "layer": [
 {"data": {"values": [{}]}, "mark": {"type": "rule", "color": "#b4b4b4", "strokeWidth": 1.5}, "encoding": {"x": {"datum": 0, "type": "quantitative", "scale": {"domain": [-1.7, 101.7], "nice": false, "zero": false}}}},
 {"data": {"values": [{}]}, "mark": {"type": "rule", "color": "#808080", "strokeWidth": 1}, "encoding": {"y": {"datum": 0, "type": "quantitative", "scale": {"domain": [-0.222, 1.222], "nice": false, "zero": false}}}},
 {"data": {"name": "curvesB"}, "mark": {"type": "line", "interpolate": "catmull-rom", "strokeWidth": 6, "strokeCap": "round", "strokeJoin": "round"},
  "encoding": {
   "x": {"field": "x", "type": "quantitative", "scale": {"domain": [-1.7, 101.7], "nice": false, "zero": false},
     "axis": {"title": "Trees 10m", "values": [0, 20, 40, 60, 80, 100], "labelExpr": "datum.value == 0 ? '0' : datum.value == 100 ? '100 %' : ''", "labelFlush": 12, "labelFlushOffset": 6, "labelFontSize": 22, "labelColor": "black", "labelPadding": 9, "labelOverlap": false, "labelBound": false, "tickSize": 4, "tickColor": "#444", "domain": false, "grid": false, "titleFontSize": 22, "titleFontWeight": "normal", "titleColor": "black", "titleBaseline": "top", "titleY": 13}},
   "y": {"field": "y", "type": "quantitative", "scale": {"domain": [-0.222, 1.222], "nice": false, "zero": false},
     "axis": {"title": "Response", "values": [-0.2, 0, 0.2, 0.4, 0.6, 0.8, 1, 1.2], "labelExpr": "datum.value == 1.2 ? '1.2' : datum.value == -0.2 ? '-0.2' : ''", "labelAngle": 270, "labelAlign": "center", "labelBaseline": "bottom", "labelOffset": {"condition": {"test": "datum.value > 0.5", "value": 7}, "value": -9}, "labelFontSize": 22, "labelColor": "black", "labelPadding": 7, "labelOverlap": false, "labelBound": false, "labelFlush": false, "tickSize": 3, "tickColor": "#444", "domain": false, "grid": false, "titleFontSize": 22, "titleFontWeight": "normal", "titleColor": "black", "titleAngle": 270, "titleBaseline": "bottom", "titleX": -16}},
   "color": {"field": "species", "type": "nominal", "legend": null, "scale": {"domain": ["T. nepaeformis","L. mutabilis","P. lugubris","L. forficatus","I. inermis","L. muticus","H. torpida","C. angustriarum","A. pulverulenta","C. terrestris","D. concolor","Z. subterraneus","O. praticola","R. triangularis","O. trux","W. dysderoides","P. alacris"], "range": ["#843C0C","#0A0A80","#0A84C0","#FFC000","#D67593","#8A80D0","#9900AA","#E00030","#111318","#6B8E23","#F06010","#58585C","#26A81E","#E54545","#22FFFF","#B5696B","#8C1B3B"]}}}},
 {"data": {"name": "labelsB"}, "mark": {"type": "text", "align": "left", "baseline": "middle", "font": "Liberation Sans", "fontSize": 22, "fontWeight": "bold", "fontStyle": "italic"},
  "encoding": {
   "x": {"field": "x", "type": "quantitative", "scale": {"domain": [-1.7, 101.7], "nice": false, "zero": false}},
   "y": {"field": "y", "type": "quantitative", "scale": {"domain": [-0.222, 1.222], "nice": false, "zero": false}},
   "text": {"field": "label"},
   "color": {"field": "species", "type": "nominal", "legend": null, "scale": {"domain": ["T. nepaeformis","L. mutabilis","P. lugubris","L. forficatus","I. inermis","L. muticus","H. torpida","C. angustriarum","A. pulverulenta","C. terrestris","D. concolor","Z. subterraneus","O. praticola","R. triangularis","O. trux","W. dysderoides","P. alacris"], "range": ["#843C0C","#0A0A80","#0A84C0","#FFC000","#D67593","#8A80D0","#9900AA","#E00030","#111318","#6B8E23","#F06010","#58585C","#26A81E","#E54545","#22FFFF","#B5696B","#8C1B3B"]}}}},
 {"data": {"values": [{"panel": "B", "x": 93.1, "y": -0.128}]}, "mark": {"type": "text", "font": "Liberation Serif", "fontSize": 37, "fontWeight": "bold", "align": "center", "baseline": "middle", "color": "black"},
  "encoding": {
   "x": {"field": "x", "type": "quantitative", "scale": {"domain": [-1.7, 101.7], "nice": false, "zero": false}},
   "y": {"field": "y", "type": "quantitative", "scale": {"domain": [-0.222, 1.222], "nice": false, "zero": false}},
   "text": {"field": "panel"}}}
]},
{"width": 505, "height": 532, "layer": [
 {"data": {"values": [{}]}, "mark": {"type": "rule", "color": "#b4b4b4", "strokeWidth": 1.5}, "encoding": {"x": {"datum": 0, "type": "quantitative", "scale": {"domain": [-1.7, 101.7], "nice": false, "zero": false}}}},
 {"data": {"values": [{}]}, "mark": {"type": "rule", "color": "#808080", "strokeWidth": 1}, "encoding": {"y": {"datum": 0, "type": "quantitative", "scale": {"domain": [-0.018, 1.218], "nice": false, "zero": false}}}},
 {"data": {"name": "curvesC"}, "mark": {"type": "line", "interpolate": "catmull-rom", "strokeWidth": 6, "strokeCap": "round", "strokeJoin": "round"},
  "encoding": {
   "x": {"field": "x", "type": "quantitative", "scale": {"domain": [-1.7, 101.7], "nice": false, "zero": false},
     "axis": {"title": "Shrubs 5m", "values": [0, 20, 40, 60, 80, 100], "labelExpr": "datum.value == 0 ? '0' : datum.value == 100 ? '100 %' : ''", "labelFlush": 12, "labelFlushOffset": 6, "labelFontSize": 22, "labelColor": "black", "labelPadding": 7, "labelOverlap": false, "labelBound": false, "tickSize": 6, "tickWidth": 4, "tickCap": "round", "tickColor": "black", "domain": false, "grid": false, "titleFontSize": 22, "titleFontWeight": "normal", "titleColor": "black", "titleBaseline": "top", "titleY": 13}},
   "y": {"field": "y", "type": "quantitative", "scale": {"domain": [-0.018, 1.218], "nice": false, "zero": false},
     "axis": {"title": "Response", "values": [0, 0.2, 0.4, 0.6, 0.8, 1, 1.2], "labelExpr": "datum.value == 1.2 ? '1.2' : datum.value == 0 ? '0.0' : ''", "labelAngle": 270, "labelAlign": "center", "labelBaseline": "bottom", "labelOffset": {"condition": {"test": "datum.value > 0.5", "value": 7}, "value": -9}, "labelFontSize": 22, "labelColor": "black", "labelPadding": 7, "labelOverlap": false, "labelBound": false, "labelFlush": false, "tickSize": 3, "tickColor": "#444", "domain": false, "grid": false, "titleFontSize": 22, "titleFontWeight": "normal", "titleColor": "black", "titleAngle": 270, "titleBaseline": "bottom", "titleX": -16}},
   "color": {"field": "species", "type": "nominal", "legend": null, "scale": {"domain": ["T. nepaeformis","L. mutabilis","P. lugubris","L. forficatus","I. inermis","L. muticus","H. torpida","C. angustriarum","A. pulverulenta","C. terrestris","D. concolor","Z. subterraneus","O. praticola","R. triangularis","O. trux","W. dysderoides","P. alacris"], "range": ["#843C0C","#0A0A80","#0A84C0","#FFC000","#D67593","#8A80D0","#9900AA","#E00030","#111318","#6B8E23","#F06010","#58585C","#26A81E","#E54545","#22FFFF","#B5696B","#8C1B3B"]}}}},
 {"data": {"name": "labelsC"}, "mark": {"type": "text", "align": "left", "baseline": "middle", "font": "Liberation Sans", "fontSize": 22, "fontWeight": "bold", "fontStyle": "italic"},
  "encoding": {
   "x": {"field": "x", "type": "quantitative", "scale": {"domain": [-1.7, 101.7], "nice": false, "zero": false}},
   "y": {"field": "y", "type": "quantitative", "scale": {"domain": [-0.018, 1.218], "nice": false, "zero": false}},
   "text": {"field": "label"},
   "color": {"field": "species", "type": "nominal", "legend": null, "scale": {"domain": ["T. nepaeformis","L. mutabilis","P. lugubris","L. forficatus","I. inermis","L. muticus","H. torpida","C. angustriarum","A. pulverulenta","C. terrestris","D. concolor","Z. subterraneus","O. praticola","R. triangularis","O. trux","W. dysderoides","P. alacris"], "range": ["#843C0C","#0A0A80","#0A84C0","#FFC000","#D67593","#8A80D0","#9900AA","#E00030","#111318","#6B8E23","#F06010","#58585C","#26A81E","#E54545","#22FFFF","#B5696B","#8C1B3B"]}}}},
 {"data": {"values": [{"panel": "C", "x": 96.1, "y": 0.068}]}, "mark": {"type": "text", "font": "Liberation Serif", "fontSize": 37, "fontWeight": "bold", "align": "center", "baseline": "middle", "color": "black"},
  "encoding": {
   "x": {"field": "x", "type": "quantitative", "scale": {"domain": [-1.7, 101.7], "nice": false, "zero": false}},
   "y": {"field": "y", "type": "quantitative", "scale": {"domain": [-0.018, 1.218], "nice": false, "zero": false}},
   "text": {"field": "panel"}}}
]},
{"width": 494, "height": 532, "layer": [
 {"data": {"values": [{}]}, "mark": {"type": "rule", "color": "#b4b4b4", "strokeWidth": 1.5}, "encoding": {"x": {"datum": 0, "type": "quantitative", "scale": {"domain": [-1.7, 101.7], "nice": false, "zero": false}}}},
 {"data": {"values": [{}]}, "mark": {"type": "rule", "color": "#808080", "strokeWidth": 1}, "encoding": {"y": {"datum": 0, "type": "quantitative", "scale": {"domain": [-0.218, 1.018], "nice": false, "zero": false}}}},
 {"data": {"name": "curvesD"}, "mark": {"type": "line", "interpolate": "catmull-rom", "strokeWidth": 6, "strokeCap": "round", "strokeJoin": "round"},
  "encoding": {
   "x": {"field": "x", "type": "quantitative", "scale": {"domain": [-1.7, 101.7], "nice": false, "zero": false},
     "axis": {"title": "Shrubs 10m", "values": [0, 20, 40, 60, 80, 100], "labelExpr": "datum.value == 0 ? '0' : datum.value == 100 ? '100 %' : ''", "labelFlush": 12, "labelFlushOffset": 6, "labelFontSize": 22, "labelColor": "black", "labelPadding": 9, "labelOverlap": false, "labelBound": false, "tickSize": 4, "tickColor": "#444", "domain": false, "grid": false, "titleFontSize": 22, "titleFontWeight": "normal", "titleColor": "black", "titleBaseline": "top", "titleY": 13}},
   "y": {"field": "y", "type": "quantitative", "scale": {"domain": [-0.218, 1.018], "nice": false, "zero": false},
     "axis": {"title": "Response", "values": [-0.2, 0, 0.2, 0.4, 0.6, 0.8, 1], "labelExpr": "datum.value == 1 ? '1.0' : datum.value == -0.2 ? '-0.2' : ''", "labelAngle": 270, "labelAlign": "center", "labelBaseline": "bottom", "labelOffset": {"condition": {"test": "datum.value > 0.5", "value": 7}, "value": -9}, "labelFontSize": 22, "labelColor": "black", "labelPadding": 7, "labelOverlap": false, "labelBound": false, "labelFlush": false, "tickSize": 3, "tickColor": "#444", "domain": false, "grid": false, "titleFontSize": 22, "titleFontWeight": "normal", "titleColor": "black", "titleAngle": 270, "titleBaseline": "bottom", "titleX": -16}},
   "color": {"field": "species", "type": "nominal", "legend": null, "scale": {"domain": ["T. nepaeformis","L. mutabilis","P. lugubris","L. forficatus","I. inermis","L. muticus","H. torpida","C. angustriarum","A. pulverulenta","C. terrestris","D. concolor","Z. subterraneus","O. praticola","R. triangularis","O. trux","W. dysderoides","P. alacris"], "range": ["#843C0C","#0A0A80","#0A84C0","#FFC000","#D67593","#8A80D0","#9900AA","#E00030","#111318","#6B8E23","#F06010","#58585C","#26A81E","#E54545","#22FFFF","#B5696B","#8C1B3B"]}}}},
 {"data": {"name": "labelsD"}, "mark": {"type": "text", "align": "left", "baseline": "middle", "font": "Liberation Sans", "fontSize": 22, "fontWeight": "bold", "fontStyle": "italic"},
  "encoding": {
   "x": {"field": "x", "type": "quantitative", "scale": {"domain": [-1.7, 101.7], "nice": false, "zero": false}},
   "y": {"field": "y", "type": "quantitative", "scale": {"domain": [-0.218, 1.018], "nice": false, "zero": false}},
   "text": {"field": "label"},
   "color": {"field": "species", "type": "nominal", "legend": null, "scale": {"domain": ["T. nepaeformis","L. mutabilis","P. lugubris","L. forficatus","I. inermis","L. muticus","H. torpida","C. angustriarum","A. pulverulenta","C. terrestris","D. concolor","Z. subterraneus","O. praticola","R. triangularis","O. trux","W. dysderoides","P. alacris"], "range": ["#843C0C","#0A0A80","#0A84C0","#FFC000","#D67593","#8A80D0","#9900AA","#E00030","#111318","#6B8E23","#F06010","#58585C","#26A81E","#E54545","#22FFFF","#B5696B","#8C1B3B"]}}}},
 {"data": {"values": [{"panel": "D", "x": 95.4, "y": -0.132}]}, "mark": {"type": "text", "font": "Liberation Serif", "fontSize": 37, "fontWeight": "bold", "align": "center", "baseline": "middle", "color": "black"},
  "encoding": {
   "x": {"field": "x", "type": "quantitative", "scale": {"domain": [-1.7, 101.7], "nice": false, "zero": false}},
   "y": {"field": "y", "type": "quantitative", "scale": {"domain": [-0.218, 1.018], "nice": false, "zero": false}},
   "text": {"field": "panel"}}}
]},
{"width": 490, "height": 552, "layer": [
 {"data": {"values": [{}]}, "mark": {"type": "rule", "color": "#b4b4b4", "strokeWidth": 1.5}, "encoding": {"x": {"datum": 0, "type": "quantitative", "scale": {"domain": [-1.7, 101.7], "nice": false, "zero": false}}}},
 {"data": {"values": [{}]}, "mark": {"type": "rule", "color": "black", "strokeWidth": 4.5}, "encoding": {"y": {"datum": 0, "type": "quantitative", "scale": {"domain": [-0.223, 1.423], "nice": false, "zero": false}}}},
 {"data": {"name": "curvesE"}, "mark": {"type": "line", "interpolate": "catmull-rom", "strokeWidth": 6, "strokeCap": "round", "strokeJoin": "round"},
  "encoding": {
   "x": {"field": "x", "type": "quantitative", "scale": {"domain": [-1.7, 101.7], "nice": false, "zero": false},
     "axis": {"title": "Herbs (5m)", "values": [0, 20, 40, 60, 80, 100], "labelExpr": "datum.value == 0 ? '0' : datum.value == 100 ? '100 %' : ''", "labelFlush": 12, "labelFlushOffset": 6, "labelFontSize": 22, "labelColor": "black", "labelPadding": 9, "labelOverlap": false, "labelBound": false, "tickSize": 4, "tickColor": "#444", "domain": false, "grid": false, "titleFontSize": 22, "titleFontWeight": "normal", "titleColor": "black", "titleBaseline": "top", "titleY": 13}},
   "y": {"field": "y", "type": "quantitative", "scale": {"domain": [-0.223, 1.423], "nice": false, "zero": false},
     "axis": {"title": "Response", "values": [-0.2, 0, 0.2, 0.4, 0.6, 0.8, 1, 1.2, 1.4], "labelExpr": "datum.value == 1.4 ? '1.4' : datum.value == -0.2 ? '-0.2' : ''", "labelAngle": 270, "labelAlign": "center", "labelBaseline": "bottom", "labelOffset": {"condition": {"test": "datum.value > 0.5", "value": 7}, "value": -9}, "labelFontSize": 22, "labelColor": "black", "labelPadding": 7, "labelOverlap": false, "labelBound": false, "labelFlush": false, "tickSize": 3, "tickColor": "#444", "domain": false, "grid": false, "titleFontSize": 22, "titleFontWeight": "normal", "titleColor": "black", "titleAngle": 270, "titleBaseline": "bottom", "titleX": -16}},
   "color": {"field": "species", "type": "nominal", "legend": null, "scale": {"domain": ["T. nepaeformis","L. mutabilis","P. lugubris","L. forficatus","I. inermis","L. muticus","H. torpida","C. angustriarum","A. pulverulenta","C. terrestris","D. concolor","Z. subterraneus","O. praticola","R. triangularis","O. trux","W. dysderoides","P. alacris"], "range": ["#843C0C","#0A0A80","#0A84C0","#FFC000","#D67593","#8A80D0","#9900AA","#E00030","#111318","#6B8E23","#F06010","#58585C","#26A81E","#E54545","#22FFFF","#B5696B","#8C1B3B"]}}}},
 {"data": {"name": "labelsE"}, "transform": [{"filter": "datum.label != 'D. concolor'"}], "mark": {"type": "text", "align": "left", "baseline": "middle", "font": "Liberation Sans", "fontSize": 22, "fontWeight": "bold", "fontStyle": "italic"},
  "encoding": {
   "x": {"field": "x", "type": "quantitative", "scale": {"domain": [-1.7, 101.7], "nice": false, "zero": false}},
   "y": {"field": "y", "type": "quantitative", "scale": {"domain": [-0.223, 1.423], "nice": false, "zero": false}},
   "text": {"field": "label"},
   "color": {"field": "species", "type": "nominal", "legend": null, "scale": {"domain": ["T. nepaeformis","L. mutabilis","P. lugubris","L. forficatus","I. inermis","L. muticus","H. torpida","C. angustriarum","A. pulverulenta","C. terrestris","D. concolor","Z. subterraneus","O. praticola","R. triangularis","O. trux","W. dysderoides","P. alacris"], "range": ["#843C0C","#0A0A80","#0A84C0","#FFC000","#D67593","#8A80D0","#9900AA","#E00030","#111318","#6B8E23","#F06010","#58585C","#26A81E","#E54545","#22FFFF","#B5696B","#8C1B3B"]}}}},
 {"data": {"name": "labelsE"}, "transform": [{"filter": "datum.label == 'D. concolor'"}], "mark": {"type": "text", "align": "left", "baseline": "middle", "font": "Liberation Sans", "fontSize": 22, "fontWeight": "bold", "fontStyle": "normal"},
  "encoding": {
   "x": {"field": "x", "type": "quantitative", "scale": {"domain": [-1.7, 101.7], "nice": false, "zero": false}},
   "y": {"field": "y", "type": "quantitative", "scale": {"domain": [-0.223, 1.423], "nice": false, "zero": false}},
   "text": {"field": "label"},
   "color": {"field": "species", "type": "nominal", "legend": null, "scale": {"domain": ["T. nepaeformis","L. mutabilis","P. lugubris","L. forficatus","I. inermis","L. muticus","H. torpida","C. angustriarum","A. pulverulenta","C. terrestris","D. concolor","Z. subterraneus","O. praticola","R. triangularis","O. trux","W. dysderoides","P. alacris"], "range": ["#843C0C","#0A0A80","#0A84C0","#FFC000","#D67593","#8A80D0","#9900AA","#E00030","#111318","#6B8E23","#F06010","#58585C","#26A81E","#E54545","#22FFFF","#B5696B","#8C1B3B"]}}}},
 {"data": {"values": [{"panel": "E", "x": 97.0, "y": -0.12}]}, "mark": {"type": "text", "font": "Liberation Serif", "fontSize": 37, "fontWeight": "bold", "align": "center", "baseline": "middle", "color": "black"},
  "encoding": {
   "x": {"field": "x", "type": "quantitative", "scale": {"domain": [-1.7, 101.7], "nice": false, "zero": false}},
   "y": {"field": "y", "type": "quantitative", "scale": {"domain": [-0.223, 1.423], "nice": false, "zero": false}},
   "text": {"field": "panel"}}}
]},
{"width": 494, "height": 552, "layer": [
 {"data": {"values": [{}]}, "mark": {"type": "rule", "color": "#b4b4b4", "strokeWidth": 1.5}, "encoding": {"x": {"datum": 0, "type": "quantitative", "scale": {"domain": [-1.7, 101.7], "nice": false, "zero": false}}}},
 {"data": {"values": [{}]}, "mark": {"type": "rule", "color": "#808080", "strokeWidth": 1}, "encoding": {"y": {"datum": 0, "type": "quantitative", "scale": {"domain": [-0.222, 1.222], "nice": false, "zero": false}}}},
 {"data": {"name": "curvesF"}, "mark": {"type": "line", "interpolate": "catmull-rom", "strokeWidth": 6, "strokeCap": "round", "strokeJoin": "round"},
  "encoding": {
   "x": {"field": "x", "type": "quantitative", "scale": {"domain": [-1.7, 101.7], "nice": false, "zero": false},
     "axis": {"title": "Herbs 10m", "values": [0, 20, 40, 60, 80, 100], "labelExpr": "datum.value == 0 ? '0' : datum.value == 100 ? '100 %' : ''", "labelFlush": 12, "labelFlushOffset": 6, "labelFontSize": 22, "labelColor": "black", "labelPadding": 9, "labelOverlap": false, "labelBound": false, "tickSize": 4, "tickColor": "#444", "domain": false, "grid": false, "titleFontSize": 22, "titleFontWeight": "normal", "titleColor": "black", "titleBaseline": "top", "titleY": 13}},
   "y": {"field": "y", "type": "quantitative", "scale": {"domain": [-0.222, 1.222], "nice": false, "zero": false},
     "axis": {"title": "Response", "values": [-0.2, 0, 0.2, 0.4, 0.6, 0.8, 1, 1.2], "labelExpr": "datum.value == 1.2 ? '1.2' : datum.value == -0.2 ? '-0.2' : ''", "labelAngle": 270, "labelAlign": "center", "labelBaseline": "bottom", "labelOffset": {"condition": {"test": "datum.value > 0.5", "value": 7}, "value": -9}, "labelFontSize": 22, "labelColor": "black", "labelPadding": 7, "labelOverlap": false, "labelBound": false, "labelFlush": false, "tickSize": 3, "tickColor": "#444", "domain": false, "grid": false, "titleFontSize": 22, "titleFontWeight": "normal", "titleColor": "black", "titleAngle": 270, "titleBaseline": "bottom", "titleX": -16}},
   "color": {"field": "species", "type": "nominal", "legend": null, "scale": {"domain": ["T. nepaeformis","L. mutabilis","P. lugubris","L. forficatus","I. inermis","L. muticus","H. torpida","C. angustriarum","A. pulverulenta","C. terrestris","D. concolor","Z. subterraneus","O. praticola","R. triangularis","O. trux","W. dysderoides","P. alacris"], "range": ["#843C0C","#0A0A80","#0A84C0","#FFC000","#D67593","#8A80D0","#9900AA","#E00030","#111318","#6B8E23","#F06010","#58585C","#26A81E","#E54545","#22FFFF","#B5696B","#8C1B3B"]}}}},
 {"data": {"name": "labelsF"}, "mark": {"type": "text", "align": "left", "baseline": "middle", "font": "Liberation Sans", "fontSize": 22, "fontWeight": "bold", "fontStyle": "italic"},
  "encoding": {
   "x": {"field": "x", "type": "quantitative", "scale": {"domain": [-1.7, 101.7], "nice": false, "zero": false}},
   "y": {"field": "y", "type": "quantitative", "scale": {"domain": [-0.222, 1.222], "nice": false, "zero": false}},
   "text": {"field": "label"},
   "color": {"field": "species", "type": "nominal", "legend": null, "scale": {"domain": ["T. nepaeformis","L. mutabilis","P. lugubris","L. forficatus","I. inermis","L. muticus","H. torpida","C. angustriarum","A. pulverulenta","C. terrestris","D. concolor","Z. subterraneus","O. praticola","R. triangularis","O. trux","W. dysderoides","P. alacris"], "range": ["#843C0C","#0A0A80","#0A84C0","#FFC000","#D67593","#8A80D0","#9900AA","#E00030","#111318","#6B8E23","#F06010","#58585C","#26A81E","#E54545","#22FFFF","#B5696B","#8C1B3B"]}}}},
 {"data": {"values": [{"panel": "F", "x": 94.8, "y": -0.125}]}, "mark": {"type": "text", "font": "Liberation Serif", "fontSize": 37, "fontWeight": "bold", "align": "center", "baseline": "middle", "color": "black"},
  "encoding": {
   "x": {"field": "x", "type": "quantitative", "scale": {"domain": [-1.7, 101.7], "nice": false, "zero": false}},
   "y": {"field": "y", "type": "quantitative", "scale": {"domain": [-0.222, 1.222], "nice": false, "zero": false}},
   "text": {"field": "panel"}}}
]}
]
}
